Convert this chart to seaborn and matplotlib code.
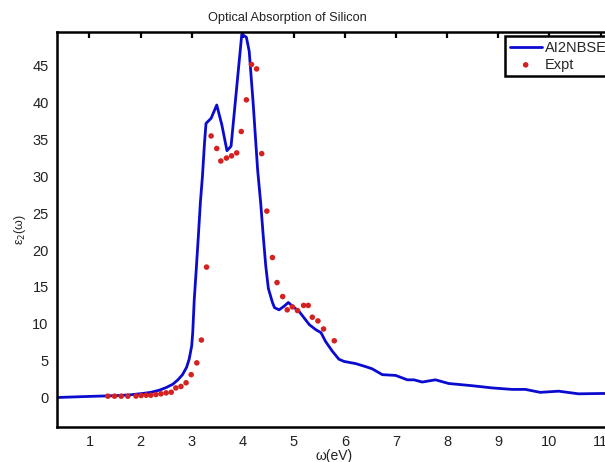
import matplotlib
matplotlib.use("Agg")
import matplotlib.pyplot as plt
import seaborn as sns
import pandas as pd

# --- data ---
theory_x = [0.36, 1.0, 1.5, 1.78, 2.04, 2.2, 2.37, 2.5, 2.63, 2.73, 2.82, 2.9, 2.95, 3.0,
            3.02, 3.05, 3.09, 3.13, 3.17, 3.21, 3.25, 3.28, 3.38, 3.49, 3.59, 3.69, 3.77,
            3.98, 4.07, 4.125, 4.2, 4.29, 4.35, 4.40, 4.45, 4.50, 4.58, 4.62, 4.71, 4.81,
            4.89, 4.97, 5.10, 5.20, 5.30, 5.43, 5.53, 5.62, 5.75, 5.88, 5.98, 6.21, 6.40,
            6.53, 6.73, 6.99, 7.22, 7.35, 7.51, 7.77, 8.03, 8.49, 8.88, 9.27, 9.53, 9.82,
            10.18, 10.57, 11.06, 11.22]
theory_y = [0.0, 0.15, 0.25, 0.35, 0.55, 0.7, 1.0, 1.35, 1.8, 2.4, 3.1, 4.1, 5.2, 7.0,
            8.8, 13.3, 17.5, 21.9, 26.5, 30.0, 34.5, 37.2, 37.9, 39.7, 37.0, 33.5, 34.1,
            49.3, 48.9, 47.0, 40.2, 30.9, 26.4, 21.9, 17.8, 14.8, 12.9, 12.2, 11.9, 12.4,
            12.9, 12.4, 11.7, 10.8, 9.9, 9.2, 8.8, 7.6, 6.3, 5.2, 4.9, 4.6, 4.2,
            3.9, 3.1, 3.0, 2.4, 2.4, 2.1, 2.4, 1.9, 1.6, 1.3, 1.1, 1.1, 0.7,
            0.86, 0.5, 0.55, 0.5]

expt_x = [1.36, 1.49, 1.62, 1.75, 1.91, 2.01, 2.11, 2.20, 2.30, 2.40, 2.50, 2.60, 2.69,
          2.79, 2.89, 2.99, 3.10, 3.19, 3.29, 3.38, 3.49, 3.57, 3.68, 3.78, 3.88, 3.97,
          4.07, 4.17, 4.27, 4.37, 4.47, 4.58, 4.67, 4.78, 4.87, 4.97, 5.07, 5.19, 5.28,
          5.36, 5.47, 5.58, 5.79]
expt_y = [0.18, 0.18, 0.18, 0.18, 0.2, 0.27, 0.31, 0.31, 0.4, 0.5, 0.63, 0.72, 1.3,
          1.5, 2.0, 3.1, 4.7, 7.8, 17.7, 35.5, 33.8, 32.1, 32.5, 32.8, 33.2, 36.1,
          40.4, 45.2, 44.6, 33.1, 25.3, 19.0, 15.6, 13.7, 11.9, 12.3, 11.8, 12.5, 12.5,
          10.9, 10.4, 9.3, 7.7]

x_ticks = [1, 2, 3, 4, 5, 6, 7, 8, 9, 10, 11]
y_ticks = [0, 5, 10, 15, 20, 25, 30, 35, 40, 45]

sns.set_style("white")
plt.rcParams['font.family'] = ['Liberation Sans', 'DejaVu Sans']
plt.rcParams['xtick.direction'] = 'in'
plt.rcParams['ytick.direction'] = 'in'

fig = plt.figure(figsize=(6.05, 4.62), dpi=100)
ax = fig.add_axes([0.0942, 0.0758, 0.917, 0.854])

df_t = pd.DataFrame({"x": theory_x, "y": theory_y})
df_e = pd.DataFrame({"x": expt_x, "y": expt_y})

sns.lineplot(data=df_t, x="x", y="y", ax=ax, sort=False, estimator=None,
             color="#0b0bd0", linewidth=2.0, label="AI2NBSE")
sns.scatterplot(data=df_e, x="x", y="y", ax=ax, color="#d42222", s=16,
                edgecolor="none", label="Expt", zorder=3)

ax.set_xlim(0.364, 11.22)
ax.set_ylim(-4, 49.55)
ax.set_xticks(x_ticks)
ax.set_yticks(y_ticks)
ax.tick_params(axis='both', which='both', direction='in', length=4.5, width=1.6,
               labelsize=10.5, top=True, right=True, color='black', labelcolor='#222222', pad=6)
for s in ax.spines.values():
    s.set_visible(True)
    s.set_linewidth(1.8)
    s.set_color('black')

ax.set_xlabel("ω(eV)", fontsize=10, labelpad=0, color='#222222')
ax.set_ylabel("ε$_2$(ω)", fontsize=9, labelpad=3, color='#222222')
ax.set_title("Optical Absorption of Silicon", fontsize=9.2, x=0.416, pad=8, color='#222222')

leg = ax.legend(loc='upper left', bbox_to_anchor=(0.808, 0.99), frameon=True, fancybox=False,
                fontsize=10.5, borderpad=0.3, labelspacing=0.2, handlelength=2.2,
                handletextpad=0.2, borderaxespad=0.0, markerscale=1.0)
leg.get_frame().set_edgecolor('black')
leg.get_frame().set_linewidth(1.8)
leg.get_frame().set_alpha(1)

fig.savefig("out.png", dpi=100)
